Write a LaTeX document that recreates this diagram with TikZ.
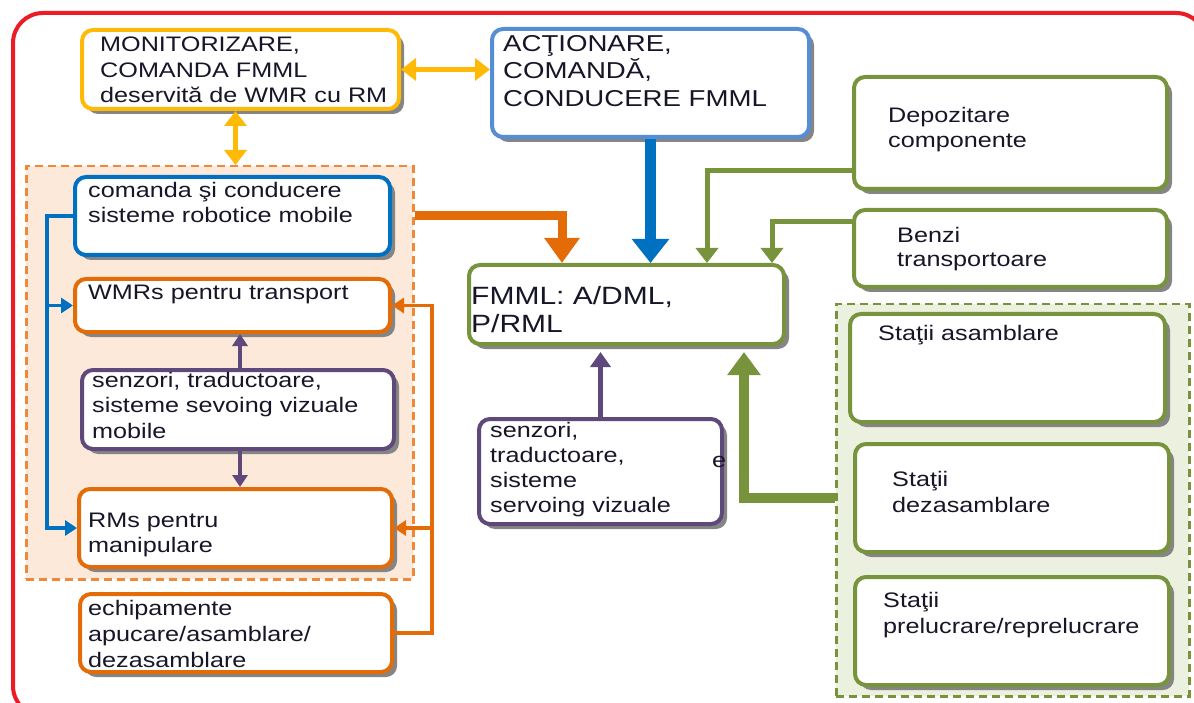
\documentclass[tikz,border=0pt]{standalone}
\usepackage{fontspec}
\newfontfamily\wide[FakeStretch=1.2]{Liberation Sans}
\usetikzlibrary{arrows.meta,shadows}

\definecolor{framered}{HTML}{ED1C24}
\definecolor{gold}{HTML}{FFBA08}
\definecolor{bluelt}{HTML}{558ED5}
\definecolor{bluedk}{HTML}{0070C0}
\definecolor{grn}{HTML}{77933C}
\definecolor{org}{HTML}{E36C09}
\definecolor{orgdash}{HTML}{F0883A}
\definecolor{pur}{HTML}{5F497A}
\definecolor{orgfill}{HTML}{FDE9D9}
\definecolor{grnfill}{HTML}{EBF1DE}
\definecolor{shadowgray}{HTML}{858585}
\definecolor{ink}{HTML}{161628}

% multi-line text whose baseline is the first line's baseline
\newcommand\lines[1]{\vtop{\halign{##\hfil\cr#1\crcr}}}

\tikzset{
  box/.style={draw=#1, line width=4pt, rounded corners=11pt, fill=white,
    anchor=north west, inner sep=0pt,
    drop shadow={shadow xshift=5pt, shadow yshift=-5pt, fill=shadowgray, opacity=1}},
  panel/.style={draw=#1, line width=2.5pt, dash pattern=on 8pt off 5pt,
    anchor=north west, inner sep=0pt},
  txt/.style={anchor=base west, inner sep=0pt, text=ink,
    font=\wide\fontsize{21}{25}\selectfont},
  tip/.style 2 args={-{Triangle[width=#1,length=#2]}},
  dtip/.style 2 args={{Triangle[width=#1,length=#2]}-{Triangle[width=#1,length=#2]}},
  yarrow/.style={dtip={22pt}{15pt}, line width=5pt, draw=gold},
  garrow/.style={tip={22pt}{15pt}, line width=5pt, draw=grn},
  barrow/.style={tip={15pt}{12pt}, line width=3.5pt, draw=bluedk},
  parrow/.style={tip={15pt}{12pt}, line width=3.5pt, draw=pur},
  oarrow/.style={tip={15pt}{12pt}, line width=3.5pt, draw=org},
}

\begin{document}
\begin{tikzpicture}[x=1pt,y=-1pt]
\useasboundingbox (0,0) rectangle (1194,703);

% outer frame
\draw[framered, line width=4pt, rounded corners=30pt] (13,13) rectangle (1206,716);

% grouping panels
\node[panel=orgdash, fill=orgfill, minimum width=387pt, minimum height=413pt] (lp) at (25,165) {};
\node[panel=grn, fill=grnfill, minimum width=353pt, minimum height=392pt] (rp) at (835,303) {};

% boxes
\node[box=gold, minimum width=317pt, minimum height=79pt] (mon) at (80,28) {};
\node[box=bluelt, minimum width=317pt, minimum height=108pt] (act) at (490,27) {};
\node[box=grn, minimum width=315pt, minimum height=79pt] (fmml) at (467,263) {};
\node[box=grn, minimum width=313pt, minimum height=112pt] (dep) at (852,75) {};
\node[box=grn, minimum width=313pt, minimum height=77pt] (benzi) at (852,208) {};
\node[box=grn, minimum width=315pt, minimum height=108pt] (sasm) at (848,312) {};
\node[box=grn, minimum width=314pt, minimum height=108pt] (sdez) at (853,442) {};
\node[box=grn, minimum width=314pt, minimum height=108pt] (sprel) at (853,575) {};
\node[box=pur, minimum width=243pt, minimum height=105pt] (senz2) at (477,417) {};
\node[box=bluedk, minimum width=315pt, minimum height=78pt] (cmd) at (73,175) {};
\node[box=org, minimum width=315pt, minimum height=53pt] (wmr) at (73,277) {};
\node[box=pur, minimum width=312pt, minimum height=79pt] (senz1) at (80,368) {};
\node[box=org, minimum width=313pt, minimum height=78pt] (rms) at (77,487) {};
\node[box=org, minimum width=312pt, minimum height=78pt] (echip) at (78,592) {};

% connectors
\draw[yarrow] (mon.east) -- (act.west |- mon.east);
\draw[yarrow] ([xshift=-5pt]mon.south) -- ([xshift=-5pt]mon.south |- lp.north);
\draw[tip={36pt}{24pt}, line width=11pt, draw=bluedk] (act.south) -- (act.south |- fmml.north);
\draw[tip={34pt}{25pt}, line width=9pt, draw=org] (lp.east |- cmd.east) -| ([xshift=-64.5pt]fmml.north);
\draw[garrow] ([yshift=20pt]dep.south west) -| ([xshift=80.5pt]fmml.north);
\draw[garrow] ([yshift=-14pt]benzi.north west) -| ([xshift=145.5pt]fmml.north);
\draw[tip={32pt}{23pt}, line width=10pt, draw=grn] (rp.west |- sdez.west) -| ([xshift=117.5pt,yshift=-6pt]fmml.south);
\draw[tip={20pt}{15pt}, line width=5pt, draw=pur] (senz2.north) -- ([yshift=-6pt]senz2.north |- fmml.south);

\coordinate (bj) at (47,0);
\draw[barrow] (cmd.west) -| (bj |- rms.west) -- (rms.west);
\draw[barrow] (bj |- wmr.west) -- (wmr.west);
\coordinate (pj) at (240,0);
\draw[parrow] (pj |- senz1.north) -- (pj |- wmr.south);
\draw[parrow] (pj |- senz1.south) -- (pj |- rms.north);
\coordinate (oj) at (432,0);
\draw[oarrow] (echip.east) -| (oj |- wmr.east) -- (wmr.east);
\draw[oarrow] (oj |- rms.east) -- (rms.east);

% labels
\node[txt, font=\wide\fontsize{21}{25.5}\selectfont] (mon-t) at (100,52)
  {\lines{MONITORIZARE,\cr COMANDA FMML\cr deservită de WMR cu RM}};
\node[txt, font=\wide\fontsize{23}{27.5}\selectfont] (act-t) at (503,51.5)
  {\lines{ACŢIONARE,\cr COMANDĂ,\cr CONDUCERE FMML}};
\node[txt, font=\wide\fontsize{25}{28}\selectfont] (fmml-t) at (471,305)
  {\lines{FMML: A/DML,\cr P/RML}};
\node[txt] (dep-t) at (888,123) {\lines{Depozitare\cr componente}};
\node[txt, font=\wide\fontsize{21}{24}\selectfont] (benzi-t) at (897,243) {\lines{Benzi\cr transportoare}};
\node[txt] (sasm-t) at (878,340) {Staţii asamblare};
\node[txt, font=\wide\fontsize{21}{26}\selectfont] (sdez-t) at (892,486) {\lines{Staţii\cr dezasamblare}};
\node[txt, font=\wide\fontsize{21}{26}\selectfont] (sprel-t) at (883,607) {\lines{Staţii\cr prelucrare/reprelucrare}};
\node[txt] (senz2-t) at (490,437) {\lines{senzori,\cr traductoare,\cr sisteme\cr servoing vizuale}};
\node[txt] (stray-t) at (712,467) {e};
\node[txt] (cmd-t) at (88,198) {\lines{comanda şi conducere\cr sisteme robotice mobile}};
\node[txt] (wmr-t) at (88,300) {WMRs pentru transport};
\node[txt, font=\wide\fontsize{21}{25.5}\selectfont] (senz1-t) at (92,387) {\lines{senzori, traductoare,\cr sisteme sevoing vizuale\cr mobile}};
\node[txt] (rms-t) at (88,527) {\lines{RMs pentru\cr manipulare}};
\node[txt, font=\wide\fontsize{21}{26}\selectfont] (echip-t) at (88,615) {\lines{echipamente\cr apucare/asamblare/\cr dezasamblare}};
\end{tikzpicture}
\end{document}
